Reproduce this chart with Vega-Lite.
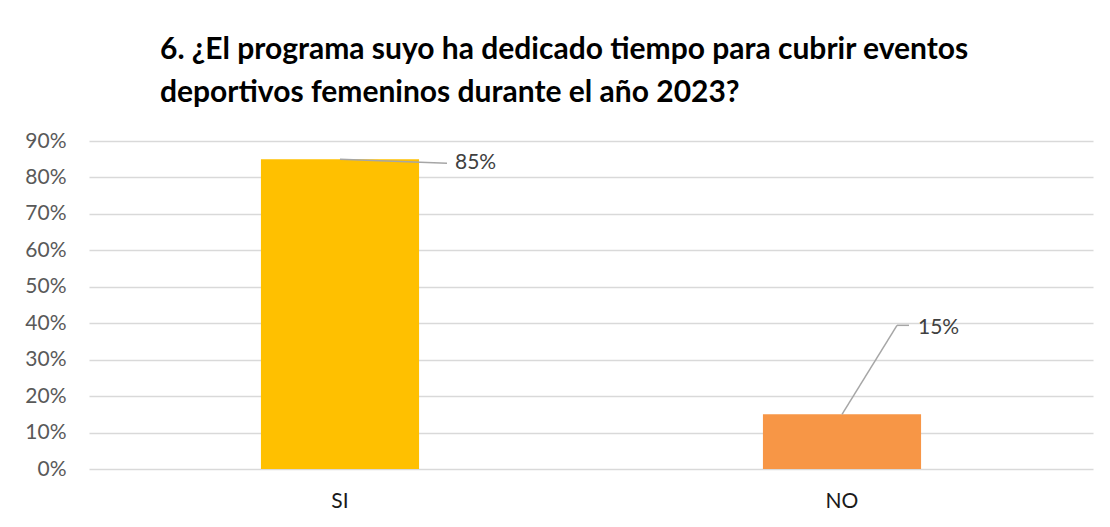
{
  "$schema": "https://vega.github.io/schema/vega-lite/v6.json",
  "width": 1004,
  "height": 328,
  "autosize": {"type": "none"},
  "padding": {"left": 89, "top": 141, "right": 17, "bottom": 58},
  "background": "white",
  "config": {"view": {"stroke": null}},
  "title": {
    "text": ["6. ¿El programa suyo ha dedicado tiempo para cubrir eventos", "deportivos femeninos durante el año 2023?"],
    "font": "Lato",
    "fontSize": 30,
    "fontWeight": "bold",
    "color": "#000000",
    "anchor": "start",
    "frame": "group",
    "dx": 71,
    "offset": 22,
    "lineHeight": 43
  },
  "data": {"values": [
    {"respuesta": "SI", "porcentaje": 0.85},
    {"respuesta": "NO", "porcentaje": 0.15}
  ]},
  "encoding": {
    "x": {
      "field": "respuesta", "type": "nominal", "sort": ["SI", "NO"],
      "scale": {"paddingInner": 0, "paddingOuter": 0},
      "axis": {"title": null, "labelAngle": 0, "domain": false, "ticks": false, "grid": false,
               "labelFont": "Lato", "labelFontSize": 21, "labelColor": "#1a1a1a", "labelPadding": 21}
    },
    "y": {
      "field": "porcentaje", "type": "quantitative",
      "scale": {"domain": [0, 0.9], "nice": false},
      "axis": {"title": null, "format": ".0%", "values": [0, 0.1, 0.2, 0.3, 0.4, 0.5, 0.6, 0.7, 0.8, 0.9],
               "domain": false, "ticks": false, "grid": true, "gridColor": "#D9D9D9", "gridWidth": 1.5,
               "labelFont": "Lato", "labelFontSize": 21, "labelColor": "#595959", "labelPadding": 23}
    }
  },
  "layer": [
    {
      "mark": {"type": "bar", "width": {"band": 0.315}},
      "encoding": {
        "color": {"field": "respuesta", "type": "nominal", "scale": {"domain": ["SI", "NO"], "range": ["#FFC000", "#F79646"]}, "legend": null}
      }
    },
    {
      "transform": [{"filter": "datum.respuesta == 'SI'"}],
      "mark": {"type": "rule", "color": "#A6A6A6", "strokeWidth": 1.5, "x2Offset": 107, "y2Offset": 4},
      "encoding": {"x2": {"field": "respuesta"}, "y2": {"field": "porcentaje"}}
    },
    {
      "transform": [{"filter": "datum.respuesta == 'NO'"}],
      "mark": {"type": "rule", "color": "#A6A6A6", "strokeWidth": 1.5, "x2Offset": 55, "y2Offset": -89},
      "encoding": {"x2": {"field": "respuesta"}, "y2": {"field": "porcentaje"}}
    },
    {
      "transform": [{"filter": "datum.respuesta == 'NO'"}],
      "mark": {"type": "rule", "color": "#A6A6A6", "strokeWidth": 1.5, "xOffset": 55, "x2Offset": 67, "yOffset": -89, "y2Offset": -89},
      "encoding": {"x2": {"field": "respuesta"}, "y2": {"field": "porcentaje"}}
    },
    {
      "transform": [{"filter": "datum.respuesta == 'SI'"}],
      "mark": {"type": "text", "align": "left", "baseline": "middle", "dx": 115, "dy": 4, "font": "Lato", "fontSize": 21, "color": "#404040"},
      "encoding": {"text": {"field": "porcentaje", "type": "quantitative", "format": ".0%"}}
    },
    {
      "transform": [{"filter": "datum.respuesta == 'NO'"}],
      "mark": {"type": "text", "align": "left", "baseline": "middle", "dx": 76, "dy": -86, "font": "Lato", "fontSize": 21, "color": "#404040"},
      "encoding": {"text": {"field": "porcentaje", "type": "quantitative", "format": ".0%"}}
    }
  ]
}
